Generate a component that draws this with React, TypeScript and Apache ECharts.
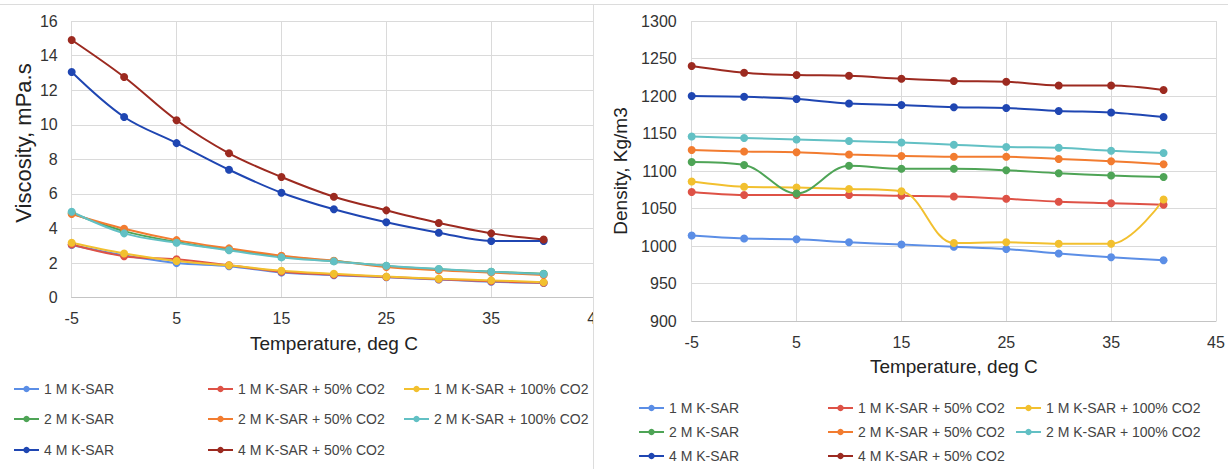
import React, { useEffect, useRef } from "react";
import * as echarts from "echarts";

const temperatures = [-5, 0, 5, 10, 15, 20, 25, 30, 35, 40];

const seriesNames = [
  "1 M K-SAR",
  "1 M K-SAR + 50% CO2",
  "1 M K-SAR + 100% CO2",
  "2 M K-SAR",
  "2 M K-SAR + 50% CO2",
  "2 M K-SAR + 100% CO2",
  "4 M K-SAR",
  "4 M K-SAR + 50% CO2",
];

const seriesColors = [
  "#5b8ee6",
  "#de5246",
  "#f2c02f",
  "#4ea456",
  "#f27c30",
  "#62c0c4",
  "#1f46b2",
  "#9c2a20",
];

// Viscosity, mPa.s
const visc1M = [3.05, 2.45, 2.0, 1.82, 1.45, 1.3, 1.18, 1.05, 0.92, 0.85];
const visc1M50 = [3.08, 2.4, 2.22, 1.88, 1.5, 1.33, 1.2, 1.07, 0.95, 0.86];
const visc1M100 = [3.18, 2.56, 2.12, 1.87, 1.56, 1.38, 1.22, 1.1, 1.0, 0.9];
const visc2M = [4.9, 3.85, 3.22, 2.78, 2.38, 2.12, 1.84, 1.64, 1.5, 1.38];
const visc2M50 = [4.84, 3.99, 3.33, 2.85, 2.43, 2.14, 1.77, 1.58, 1.45, 1.31];
const visc2M100 = [4.97, 3.72, 3.18, 2.74, 2.33, 2.1, 1.85, 1.66, 1.5, 1.37];
const visc4M = [13.05, 10.45, 8.94, 7.4, 6.07, 5.11, 4.36, 3.76, 3.28, 3.28];
const visc4M50 = [14.9, 12.76, 10.26, 8.35, 6.98, 5.84, 5.05, 4.32, 3.72, 3.37];

// Density, Kg/m3
const dens1M = [1014, 1010, 1009, 1005, 1002, 999, 996, 990, 985, 981];
const dens1M50 = [1072, 1068, 1068, 1068, 1067, 1066, 1063, 1059, 1057, 1055];
const dens1M100 = [1086, 1079, 1078, 1076, 1073, 1004, 1005, 1003, 1003, 1062];
const dens2M = [1112, 1108, 1070, 1107, 1103, 1103, 1101, 1097, 1094, 1092];
const dens2M50 = [1128, 1126, 1125, 1122, 1120, 1119, 1119, 1116, 1113, 1109];
const dens2M100 = [1146, 1144, 1142, 1140, 1138, 1135, 1132, 1131, 1127, 1124];
const dens4M = [1200, 1199, 1196, 1190, 1188, 1185, 1184, 1180, 1178, 1172];
const dens4M50 = [1240, 1231, 1228, 1227, 1223, 1220, 1219, 1214, 1214, 1208];

const viscosityData = [visc1M, visc1M50, visc1M100, visc2M, visc2M50, visc2M100, visc4M, visc4M50];
const densityData = [dens1M, dens1M50, dens1M100, dens2M, dens2M50, dens2M100, dens4M, dens4M50];

const viscosityTitle = "Viscosity, mPa.s";
const densityTitle = "Density, Kg/m3";
const temperatureTitle = "Temperature, deg C";

const FONT = "'Liberation Sans', Arial, sans-serif";

function buildSeries(data: number[][]) {
  return data.map((vals, i) => ({
    name: seriesNames[i],
    type: "line",
    smooth: 0.35,
    symbol: "circle",
    symbolSize: 8,
    lineStyle: { width: 2, color: seriesColors[i] },
    itemStyle: { color: seriesColors[i] },
    data: temperatures.map((t, j) => [t, vals[j]]),
  }));
}

function buildLegends(cols: number[], rows: number[]) {
  return seriesNames.map((name, i) => ({
    data: [name],
    left: cols[i % 3],
    top: rows[Math.floor(i / 3)],
    itemWidth: 25,
    itemHeight: 8,
    padding: 0,
    textStyle: { fontSize: 14, color: "#444", fontFamily: FONT },
  }));
}

const plainNumber = (v: number) => String(v);

function axisX(labelMargin: number, nameGap: number) {
  return {
    type: "value",
    min: -5,
    max: 45,
    interval: 10,
    name: temperatureTitle,
    nameLocation: "middle",
    nameGap,
    nameTextStyle: { fontSize: 19, color: "#222", fontFamily: FONT },
    axisLine: { show: true, lineStyle: { color: "#c4c4c4", width: 1 } },
    axisTick: { show: false },
    axisLabel: { margin: labelMargin, fontSize: 16, color: "#333", fontFamily: FONT, formatter: plainNumber },
    splitLine: { show: true, lineStyle: { color: "#dadada", width: 1 } },
  };
}

export default function App() {
  const leftRef = useRef<HTMLDivElement>(null);
  const rightRef = useRef<HTMLDivElement>(null);

  useEffect(() => {
    const left = echarts.init(leftRef.current!, undefined, { renderer: "svg" });
    const right = echarts.init(rightRef.current!, undefined, { renderer: "svg" });

    left.setOption({
      animation: false,
      backgroundColor: "#ffffff",
      textStyle: { fontFamily: FONT },
      grid: { left: 71.7, top: 21, width: 524.4, height: 276.7, containLabel: false },
      xAxis: axisX(13, 36),
      yAxis: {
        type: "value",
        min: 0,
        max: 16,
        interval: 2,
        axisLine: { show: false },
        axisTick: { show: false },
        axisLabel: { margin: 14, fontSize: 16, color: "#333", fontFamily: FONT, formatter: plainNumber },
        splitLine: { show: true, lineStyle: { color: "#dadada", width: 1 } },
      },
      graphic: [
        {
          type: "text",
          x: 23,
          y: 143,
          rotation: Math.PI / 2,
          style: {
            text: viscosityTitle,
            fontSize: 22,
            fontFamily: FONT,
            fill: "#222",
            align: "center",
            verticalAlign: "middle",
          },
        },
      ],
      legend: buildLegends([13, 207, 403], [382, 412, 443]),
      series: buildSeries(viscosityData),
    });

    right.setOption({
      animation: false,
      backgroundColor: "#ffffff",
      textStyle: { fontFamily: FONT },
      grid: { left: 97.7, top: 21, width: 524.3, height: 300, containLabel: false },
      xAxis: axisX(13, 36),
      yAxis: {
        type: "value",
        min: 900,
        max: 1300,
        interval: 50,
        name: densityTitle,
        nameLocation: "middle",
        nameGap: 59,
        nameTextStyle: { fontSize: 19, color: "#222", fontFamily: FONT },
        axisLine: { show: false },
        axisTick: { show: false },
        axisLabel: { margin: 15, fontSize: 16, color: "#333", fontFamily: FONT, formatter: plainNumber },
        splitLine: { show: true, lineStyle: { color: "#dadada", width: 1 } },
      },
      legend: buildLegends([44, 233, 421], [401, 425, 449]),
      series: buildSeries(densityData),
    });

    return () => {
      left.dispose();
      right.dispose();
    };
  }, []);

  return (
    <div
      style={{
        position: "absolute",
        left: 0,
        top: 0,
        width: 1228,
        height: 469,
        background: "#ffffff",
        overflow: "hidden",
      }}
    >
      <div
        style={{
          position: "absolute",
          left: 0,
          top: 0,
          width: 593,
          height: 469,
          overflow: "hidden",
        }}
      >
        <div ref={leftRef} style={{ width: 620, height: 469 }} />
      </div>
      <div
        style={{
          position: "absolute",
          left: 594,
          top: 0,
          width: 634,
          height: 469,
          overflow: "hidden",
        }}
      >
        <div ref={rightRef} style={{ width: 634, height: 469 }} />
      </div>
      <div style={{ position: "absolute", left: 0, top: 4, width: 1228, height: 1, background: "#dcdcdc" }} />
      <div style={{ position: "absolute", left: 593, top: 4, width: 1, height: 465, background: "#dcdcdc" }} />
    </div>
  );
}
